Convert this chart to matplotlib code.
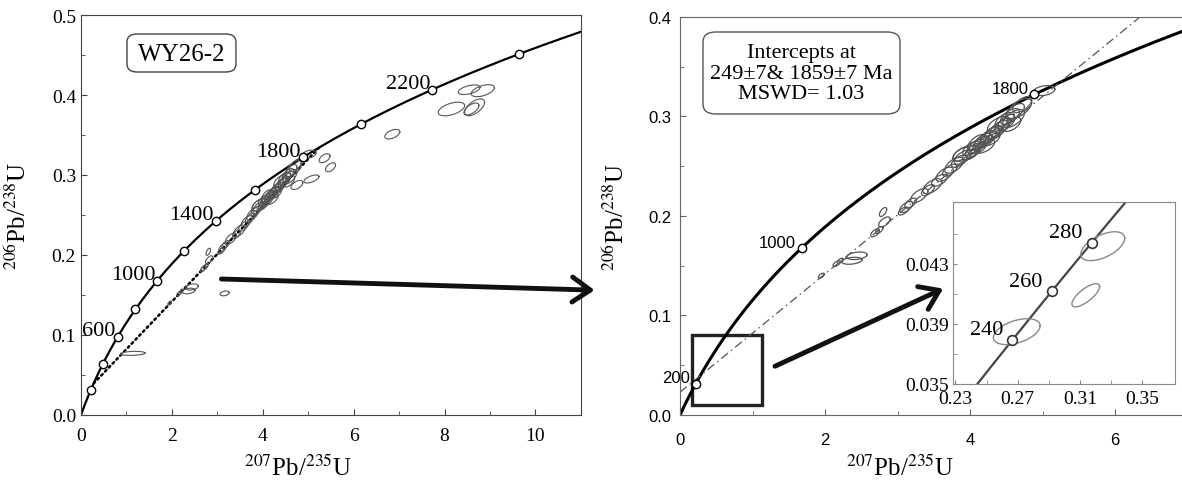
import numpy as np
import matplotlib
matplotlib.use('Agg')
import matplotlib.pyplot as plt
from matplotlib.patches import Rectangle, FancyBboxPatch

plt.rcParams['font.family'] = ['Liberation Serif', 'DejaVu Serif']
plt.rcParams['mathtext.fontset'] = 'stix'

# U decay constants (1/yr), used for the concordia curve
l238 = 1.55125e-10
l235 = 9.8485e-10

# zircon analyses: 207Pb/235U, 206Pb/238U, ellipse half-axes, rho
pb207_u235 = [1.95, 2.16, 2.21, 2.37, 2.44, 2.69, 2.75, 2.82, 2.80, 3.08,
              3.12, 3.18, 3.30, 3.42, 3.48, 3.58, 3.65, 3.72, 3.78, 3.85,
              3.90, 3.95, 4.00, 4.05, 4.08, 4.12, 4.15, 4.18, 4.22, 4.25,
              4.28, 4.32, 4.36, 4.40, 4.45, 4.50, 4.55, 4.60, 4.62, 4.68,
              4.72, 5.02, 4.10, 4.20, 4.30, 4.38, 4.48, 4.58, 4.02, 3.88,
              8.54, 8.84, 8.15, 8.66, 8.59, 6.85, 5.36, 5.49, 5.07, 4.75,
              1.14, 3.16]
err207 = [0.04, 0.05, 0.04, 0.14, 0.14, 0.06, 0.05, 0.08, 0.05, 0.07,
          0.09, 0.08, 0.12, 0.09, 0.13, 0.11, 0.12, 0.10, 0.13, 0.11,
          0.12, 0.18, 0.10, 0.11, 0.12, 0.10, 0.11, 0.12, 0.10, 0.11,
          0.13, 0.12, 0.10, 0.13, 0.11, 0.12, 0.13, 0.15, 0.13, 0.17,
          0.13, 0.15, 0.13, 0.14, 0.11, 0.14, 0.13, 0.12, 0.12, 0.12,
          0.24, 0.255, 0.29, 0.22, 0.165, 0.165, 0.12, 0.11, 0.165, 0.13,
          0.27, 0.10]
pb206_u238 = [0.140, 0.152, 0.155, 0.155, 0.160, 0.183, 0.186, 0.194, 0.204, 0.205,
              0.209, 0.213, 0.2205, 0.226, 0.230, 0.236, 0.242, 0.246, 0.251, 0.255,
              0.259, 0.263, 0.262, 0.266, 0.270, 0.268, 0.273, 0.276, 0.275, 0.279,
              0.281, 0.284, 0.283, 0.288, 0.291, 0.294, 0.300, 0.298, 0.305, 0.308,
              0.312, 0.326, 0.274, 0.270, 0.277, 0.292, 0.297, 0.292, 0.268, 0.262,
              0.4066, 0.4054, 0.3825, 0.3846, 0.3825, 0.351, 0.321, 0.3096, 0.295, 0.2875,
              0.077, 0.152]
err206 = [0.0025, 0.0028, 0.0025, 0.0035, 0.0038, 0.004, 0.0035, 0.005, 0.0045, 0.004,
          0.0055, 0.005, 0.007, 0.0055, 0.0075, 0.006, 0.007, 0.006, 0.008, 0.006,
          0.007, 0.008, 0.0055, 0.007, 0.007, 0.0055, 0.007, 0.007, 0.006, 0.007,
          0.008, 0.007, 0.0055, 0.008, 0.007, 0.008, 0.008, 0.009, 0.008, 0.010,
          0.008, 0.005, 0.008, 0.007, 0.006, 0.008, 0.007, 0.007, 0.007, 0.007,
          0.006, 0.0075, 0.0085, 0.0105, 0.0075, 0.006, 0.0056, 0.0056, 0.005, 0.0056,
          0.0025, 0.003]
rho = [0.6, 0.6, 0.6, 0.3, 0.3, 0.6, 0.6, 0.6, 0.6, 0.6,
       0.6, 0.6, 0.6, 0.6, 0.6, 0.6, 0.6, 0.6, 0.6, 0.6,
       0.6, 0.5, 0.6, 0.6, 0.6, 0.6, 0.6, 0.6, 0.6, 0.6,
       0.6, 0.6, 0.6, 0.6, 0.6, 0.6, 0.6, 0.6, 0.6, 0.6,
       0.6, 0.3, 0.6, 0.6, 0.6, 0.6, 0.6, 0.6, 0.6, 0.6,
       0.5, 0.5, 0.5, 0.6, 0.6, 0.5, 0.5, 0.5, 0.6, 0.5,
       0.2, 0.3]
n_used = 50  # first 50 analyses go into the regression (right panel)

# young grains shown in the inset
inset_207 = [0.2694, 0.3137, 0.3246]
inset_err207 = [0.0150, 0.0089, 0.0141]
inset_206 = [0.03848, 0.04090, 0.04416]
inset_err206 = [0.00086, 0.00077, 0.00096]
inset_rho = [0.45, 0.75, 0.55]

intercepts = [249, 1859]  # Ma
left_marks = [200, 400, 600, 800, 1000, 1200, 1400, 1600, 1800, 2000, 2200, 2400]
left_labels = [600, 1000, 1400, 1800, 2200]
right_marks = [200, 1000, 1800]
inset_marks = [240, 260, 280]


def conc(t_ma):
    t = np.asarray(t_ma, dtype=float) * 1e6
    return np.exp(l235 * t) - 1, np.exp(l238 * t) - 1


def ellipse(ax, x, sx, y, sy, r, **kw):
    cov = np.array([[sx * sx, r * sx * sy], [r * sx * sy, sy * sy]])
    L = np.linalg.cholesky(cov)
    a = np.linspace(0, 2 * np.pi, 90)
    pts = L @ np.vstack([np.cos(a), np.sin(a)])
    ax.plot(x + pts[0], y + pts[1], **kw)


fig = plt.figure(figsize=(11.82, 4.85), dpi=100)
ax1 = fig.add_axes([0.0685, 0.1423, 0.4230, 0.8247])
ax2 = fig.add_axes([0.5753, 0.1423, 0.4294, 0.8206])
ax3 = fig.add_axes([0.8063, 0.2062, 0.1878, 0.3753])

ylab = r'$^{206}$Pb/$^{238}$U'
xlab = r'$^{207}$Pb/$^{235}$U'

# ---- left panel: all analyses
cx, cy = conc(np.linspace(0, 2600, 600))
ax1.plot(cx, cy, color='k', lw=1.6)
dx, dy = conc(intercepts)
ax1.plot(dx, dy, color='k', lw=1.8, ls=(0, (0.8, 1.4)), dash_capstyle='round')
for i in range(len(pb207_u235)):
    ellipse(ax1, pb207_u235[i], err207[i], pb206_u238[i], err206[i], rho[i],
            color='#555555', lw=0.8)
mx, my = conc(left_marks)
ax1.plot(mx, my, 'o', ms=6, mfc='white', mec='k', mew=1, zorder=5)
for a in left_labels:
    px, py = conc(a)
    ax1.annotate(str(a), (px, py), xytext=(-2, 6), textcoords='offset pixels',
                 ha='right', va='center', fontsize=16)

ax1.set_xlim(0, 11)
ax1.set_ylim(0, 0.5)
ax1.set_xticks([0, 2, 4, 6, 8, 10])
ax1.set_xticks([1, 3, 5, 7, 9], minor=True)
ax1.set_yticks([0, 0.1, 0.2, 0.3, 0.4, 0.5])
ax1.set_yticks([0.05, 0.15, 0.25, 0.35, 0.45], minor=True)
ax1.set_yticklabels(['0.0', '0.1', '0.2', '0.3', '0.4', '0.5'])
ax1.tick_params(which='both', direction='in', labelsize=14, color='#444')
ax1.tick_params(which='major', length=4)
ax1.tick_params(which='minor', length=3)
ax1.tick_params(axis='x', pad=9)
for s in ax1.spines.values():
    s.set_color('#444')
ax1.set_xlabel(xlab, fontsize=18)
ax1.set_ylabel(ylab, fontsize=18)
ax1.xaxis.set_label_coords(0.434, -0.1)
ax1.yaxis.set_label_coords(-0.1, 0.5)

ax1.add_patch(FancyBboxPatch((0.092, 0.8575), 0.218, 0.095, transform=ax1.transAxes,
                             boxstyle='round,pad=0,rounding_size=0.02',
                             fc='white', ec='#444', lw=1))
ax1.text(0.201, 0.903, 'WY26-2', transform=ax1.transAxes, ha='center', va='center',
         fontsize=18)
ax1.annotate('', xy=(11.3, 0.156), xytext=(3.09, 0.17), annotation_clip=False,
             arrowprops=dict(arrowstyle='->,head_length=0.65,head_width=0.45',
                             lw=3.5, color='#111', mutation_scale=20,
                             shrinkA=0, shrinkB=0))

# ---- right panel: regression set
ax2.plot(cx, cy, color='k', lw=2.2)
slope = (dy[1] - dy[0]) / (dx[1] - dx[0])
lx = np.array([0, 7.0])
ax2.plot(lx, dy[0] + slope * (lx - dx[0]), color='#555555', lw=0.9,
         ls=(0, (7, 3, 1.2, 3)))
for i in range(n_used):
    ellipse(ax2, pb207_u235[i], err207[i], pb206_u238[i], err206[i], rho[i],
            color='#555555', lw=0.9)
mx, my = conc(right_marks)
ax2.plot(mx, my, 'o', ms=6, mfc='white', mec='k', mew=1, zorder=5)
for a in right_marks:
    px, py = conc(a)
    ax2.annotate(str(a), (px, py), xytext=(-6, 6), textcoords='offset pixels',
                 ha='right', va='center', fontsize=12, family='Liberation Sans')

ax2.set_xlim(0, 7)
ax2.set_ylim(0, 0.4)
ax2.set_xticks([0, 2, 4, 6])
ax2.set_xticks([1, 3, 5], minor=True)
ax2.set_yticks([0, 0.1, 0.2, 0.3, 0.4])
ax2.set_yticks([0.05, 0.15, 0.25, 0.35], minor=True)
ax2.set_yticklabels(['0.0', '0.1', '0.2', '0.3', '0.4'])
ax2.tick_params(which='both', direction='in', labelsize=12, color='#666',
                labelfontfamily='Liberation Sans')
ax2.tick_params(which='major', length=4)
ax2.tick_params(which='minor', length=3)
ax2.tick_params(axis='x', pad=12)
ax2.tick_params(axis='y', pad=6)
for s in ax2.spines.values():
    s.set_color('#666')
ax2.set_xlabel(xlab, fontsize=18)
ax2.set_ylabel(ylab, fontsize=18)
ax2.xaxis.set_label_coords(0.433, -0.1)
ax2.yaxis.set_label_coords(-0.1, 0.5)

ax2.add_patch(Rectangle((0.16, 0.01), 0.97, 0.07, fill=False, lw=2.4, ec='#222'))
ax2.annotate('', xy=(3.63, 0.127), xytext=(1.31, 0.049),
             arrowprops=dict(arrowstyle='->,head_length=0.65,head_width=0.45',
                             lw=3.5, color='#111', mutation_scale=20,
                             shrinkA=0, shrinkB=0))
ax2.add_patch(FancyBboxPatch((0.0453, 0.7563), 0.3882, 0.206, transform=ax2.transAxes,
                             boxstyle='round,pad=0,rounding_size=0.025',
                             fc='white', ec='#555', lw=1))
ax2.text(0.2394, 0.859, 'Intercepts at\n249±7& 1859±7 Ma\nMSWD= 1.03',
         transform=ax2.transAxes, ha='center', va='center', fontsize=16,
         linespacing=1.12)

# ---- inset: lower intercept region
ix, iy = conc(np.linspace(200, 320, 200))
ax3.plot(ix, iy, color='#444', lw=1.6)
for i in range(len(inset_207)):
    ellipse(ax3, inset_207[i], inset_err207[i], inset_206[i], inset_err206[i],
            inset_rho[i], color='#888888', lw=1)
mx, my = conc(inset_marks)
ax3.plot(mx, my, 'o', ms=7, mfc='white', mec='#333', mew=1.2, zorder=5)
for a in inset_marks:
    px, py = conc(a)
    ax3.annotate(str(a), (px, py), xytext=(-9, 10), textcoords='offset pixels',
                 ha='right', va='center', fontsize=16)
ax3.set_xlim(0.2285, 0.371)
ax3.set_ylim(0.0351, 0.0471)
ax3.set_xticks([0.23, 0.27, 0.31, 0.35])
ax3.set_xticklabels(['0.23', '0.27', '0.31', '0.35'])
ax3.set_xticks([0.25, 0.29, 0.33], minor=True)
ax3.set_yticks([0.035, 0.039, 0.043])
ax3.set_yticklabels(['0.035', '0.039', '0.043'])
ax3.set_yticks([0.037, 0.041, 0.045], minor=True)
ax3.tick_params(which='both', direction='in', length=3, labelsize=14, color='#888')
ax3.tick_params(axis='x', pad=4)
ax3.tick_params(axis='y', pad=3)
for s in ax3.spines.values():
    s.set_color('#888')

fig.savefig('out.png', dpi=100)
